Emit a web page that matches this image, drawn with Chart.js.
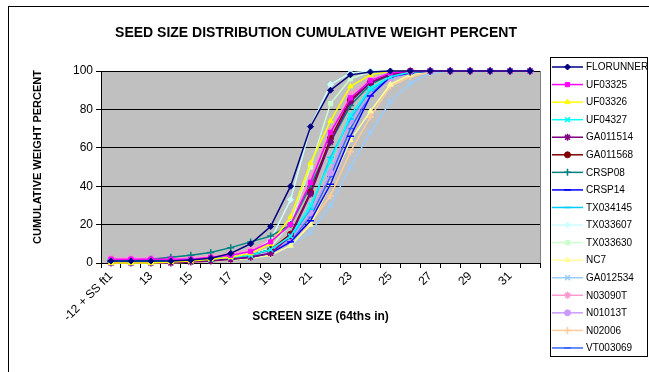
<!DOCTYPE html>
<html>
<head>
<meta charset="utf-8">
<script src="https://cdn.jsdelivr.net/npm/chart.js@4/dist/chart.umd.min.js"></script>
<style>
html, body { margin: 0; padding: 0; background: #fff; }
#wrap { width: 649px; height: 372px; position: relative; overflow: hidden; }
</style>
</head>
<body>
<div id="wrap"><canvas id="seedChart" width="649" height="372"></canvas></div>
<script>
// screen sizes (64ths in)
var screenSizes = ["-12 + SS ft1", "12", "13", "14", "15", "16", "17", "18", "19", "20", "21", "22",
    "23", "24", "25", "26", "27", "28", "29", "30", "31", "32"];
var yTicks = [0, 20, 40, 60, 80, 100];

// cumulative weight percent per variety
var florunner = [1, 1, 1, 1, 1.5, 2.5, 5, 10, 19, 40, 71, 90, 98, 99.5, 100, 100, 100, 100, 100, 100, 100, 100];
var uf03325 = [2, 2, 2, 2, 2, 3, 4, 6, 11, 20, 42, 68, 86, 95, 99, 100, 100, 100, 100, 100, 100, 100];
var uf03326 = [0, 0, 0, 0.5, 1, 2, 3, 5, 10, 24, 52, 74, 92, 98, 100, 100, 100, 100, 100, 100, 100, 100];
var uf04327 = [1, 1, 1, 1, 1.5, 2, 3, 4, 7, 14, 30, 53, 77, 91, 97, 99.5, 100, 100, 100, 100, 100, 100];
var ga011514 = [0, 0, 0, 0, 0.5, 1, 2, 3, 5, 14, 36, 63, 84, 94, 98, 99.5, 100, 100, 100, 100, 100, 100];
var ga011568 = [1, 1, 1, 1, 1.5, 2, 3, 4, 7, 15, 37, 65, 85, 94, 98.5, 100, 100, 100, 100, 100, 100, 100];
var crsp08 = [1, 1.5, 2, 3, 4, 5.5, 8, 11, 14, 20, 40, 63, 82, 93, 98, 99.5, 100, 100, 100, 100, 100, 100];
var crsp14 = [1, 1, 1, 1, 1, 1.5, 2, 3, 5, 11, 22, 41, 66, 87, 97, 99, 100, 100, 100, 100, 100, 100];
var tx034145 = [1, 1, 1, 1, 1.5, 2, 3, 4, 7, 13, 28, 55, 75, 90, 97, 99.5, 100, 100, 100, 100, 100, 100];
var tx033607 = [1, 1, 1, 1, 1.5, 2, 3, 5, 12, 33, 71, 93, 99, 100, 100, 100, 100, 100, 100, 100, 100, 100];
var tx033630 = [1, 1, 1, 1, 1.5, 2, 3, 4, 8, 21, 50, 83, 96, 99.5, 100, 100, 100, 100, 100, 100, 100, 100];
var nc7 = [0, 0, 0, 0, 0.5, 1, 1.5, 2.5, 4, 9, 20, 41, 64, 79, 93, 98, 100, 100, 100, 100, 100, 100];
var ga012534 = [1, 1, 1, 1, 1, 1.5, 2, 2.5, 4, 9, 16, 30, 50, 68, 84, 93.5, 99, 100, 100, 100, 100, 100];
var n03090t = [2.5, 2.5, 2.5, 2.5, 3, 3.5, 5, 7, 12, 22, 45, 69, 88, 96, 99, 100, 100, 100, 100, 100, 100, 100];
var n01013t = [2.5, 2.5, 2.5, 2.5, 2.5, 3, 3.5, 4.5, 6, 12, 26, 47, 74, 87.5, 96, 99, 100, 100, 100, 100, 100, 100];
var n02006 = [1, 1, 1, 1, 1, 1.5, 2, 3, 5, 11, 21, 35, 58, 76, 92, 97, 99.5, 100, 100, 100, 100, 100];
var vt003069 = [1.5, 1.5, 1.5, 1.5, 1.5, 2, 2.5, 3.5, 5, 12, 24, 45, 70, 88, 97, 99, 100, 100, 100, 100, 100, 100];

var seriesNames = ["FLORUNNER", "UF03325", "UF03326", "UF04327", "GA011514", "GA011568", "CRSP08", "CRSP14",
    "TX034145", "TX033607", "TX033630", "NC7", "GA012534", "N03090T", "N01013T", "N02006", "VT003069"];
var seriesValues = [florunner, uf03325, uf03326, uf04327, ga011514, ga011568, crsp08, crsp14,
    tx034145, tx033607, tx033630, nc7, ga012534, n03090t, n01013t, n02006, vt003069];
var seriesColors = ["#000080", "#FF00FF", "#FFFF00", "#00FFFF", "#800080", "#800000", "#008080", "#0000FF",
    "#00CCFF", "#CCFFFF", "#CCFFCC", "#FFFF99", "#99CCFF", "#FF99CC", "#CC99FF", "#FFCC99", "#3366FF"];
var seriesMarkers = ["rectRot", "rect", "triangle", "crossRot", "star", "circle", "cross", "line",
    "line", "rectRot", "rect", "triangle", "crossRot", "star", "circle", "cross", "line"];

var FONT = "'Liberation Sans', Arial, sans-serif";

var datasets = [];
for (var i = 0; i < seriesNames.length; i++) {
    var big = seriesMarkers[i] == "line" || seriesMarkers[i] == "cross" || seriesMarkers[i] == "crossRot" || seriesMarkers[i] == "star";
    datasets.push({
        label: seriesNames[i],
        data: seriesValues[i],
        borderColor: seriesColors[i],
        backgroundColor: seriesColors[i],
        pointBackgroundColor: seriesColors[i],
        pointBorderColor: seriesColors[i],
        pointStyle: seriesMarkers[i],
        pointRadius: big ? 3.5 : 3,
        pointBorderWidth: big ? 1.5 : 1,
        borderWidth: 1.5,
        tension: 0,
        clip: false
    });
}

/* draw outer frame, plot background, titles and legend box */
var excelLook = {
    id: "excelLook",
    beforeDraw: function (chart) {
        var ctx = chart.ctx, a = chart.chartArea;
        ctx.save();
        ctx.fillStyle = "#fff";
        ctx.fillRect(0, 0, chart.width, chart.height);
        ctx.fillStyle = "#C0C0C0";
        ctx.fillRect(a.left, a.top, a.right - a.left, a.bottom - a.top);
        ctx.restore();
    },
    afterDraw: function (chart) {
        var ctx = chart.ctx, a = chart.chartArea;
        ctx.save();
        // plot area right edge
        ctx.strokeStyle = "#808080";
        ctx.lineWidth = 1;
        ctx.beginPath();
        ctx.moveTo(a.right + 0.5, a.top);
        ctx.lineTo(a.right + 0.5, a.bottom);
        ctx.stroke();
        // chart frame
        ctx.strokeStyle = "#000";
        ctx.strokeRect(8.5, 6.5, 700, 400);
        // title
        ctx.fillStyle = "#000";
        ctx.font = "bold 14px " + FONT;
        ctx.textAlign = "center";
        ctx.textBaseline = "middle";
        ctx.fillText("SEED SIZE DISTRIBUTION CUMULATIVE WEIGHT PERCENT", 316, 33);
        // y axis title
        ctx.save();
        ctx.translate(38, 157);
        ctx.rotate(-Math.PI / 2);
        ctx.font = "bold 11px " + FONT;
        ctx.fillText("CUMULATIVE WEIGHT PERCENT", 0, 0);
        ctx.restore();
        // legend
        ctx.strokeRect(550.5, 57.5, 97, 299);
        ctx.font = "10px " + FONT;
        ctx.textAlign = "left";
        for (var k = 0; k < chart.data.datasets.length; k++) {
            var ds = chart.data.datasets[k];
            var y = 67 + k * 17.56;
            ctx.strokeStyle = ds.borderColor;
            ctx.lineWidth = 1.5;
            ctx.beginPath();
            ctx.moveTo(552, y);
            ctx.lineTo(583, y);
            ctx.stroke();
            ctx.fillStyle = ds.pointBackgroundColor;
            ctx.strokeStyle = ds.pointBorderColor;
            ctx.lineWidth = ds.pointBorderWidth;
            Chart.helpers.drawPoint(ctx, {
                pointStyle: ds.pointStyle,
                radius: ds.pointRadius,
                borderWidth: ds.pointBorderWidth,
                rotation: 0
            }, 567.5, y);
            ctx.fillStyle = "#000";
            ctx.fillText(ds.label, 586, y + 0.5);
        }
        ctx.restore();
    }
};

var chart = new Chart(document.getElementById("seedChart"), {
    type: "line",
    data: {
        labels: screenSizes,
        datasets: datasets
    },
    options: {
        responsive: false,
        animation: false,
        devicePixelRatio: 1,
        layout: { padding: { left: 28, right: 109, top: 71, bottom: 44 } },
        plugins: {
            legend: { display: false },
            title: { display: false },
            tooltip: { enabled: false }
        },
        scales: {
            x: {
                type: "category",
                offset: true,
                grid: { offset: true, drawOnChartArea: false, drawTicks: true, tickLength: 5, color: "#000" },
                border: { color: "#000" },
                ticks: {
                    autoSkip: false,
                    minRotation: 45,
                    maxRotation: 45,
                    padding: 1,
                    color: "#000",
                    font: { family: FONT, size: 12 },
                    callback: function (val, idx) {
                        return idx % 2 == 0 ? screenSizes[idx] : "";
                    }
                },
                title: {
                    display: true,
                    text: "SCREEN SIZE (64ths in)",
                    color: "#000",
                    font: { family: FONT, size: 12, weight: "bold" }
                },
                afterFit: function (s) { s.height = 65; }
            },
            y: {
                min: 0,
                max: 100,
                grid: { color: "#000", tickLength: 5 },
                border: { color: "#000" },
                ticks: {
                    stepSize: 20,
                    color: "#000",
                    font: { family: FONT, size: 12 },
                    callback: function (val) { return yTicks.indexOf(val) >= 0 ? val : ""; }
                },
                title: { display: false },
                afterFit: function (s) { s.width = 73; }
            }
        }
    },
    plugins: [excelLook]
});
</script>
</body>
</html>
